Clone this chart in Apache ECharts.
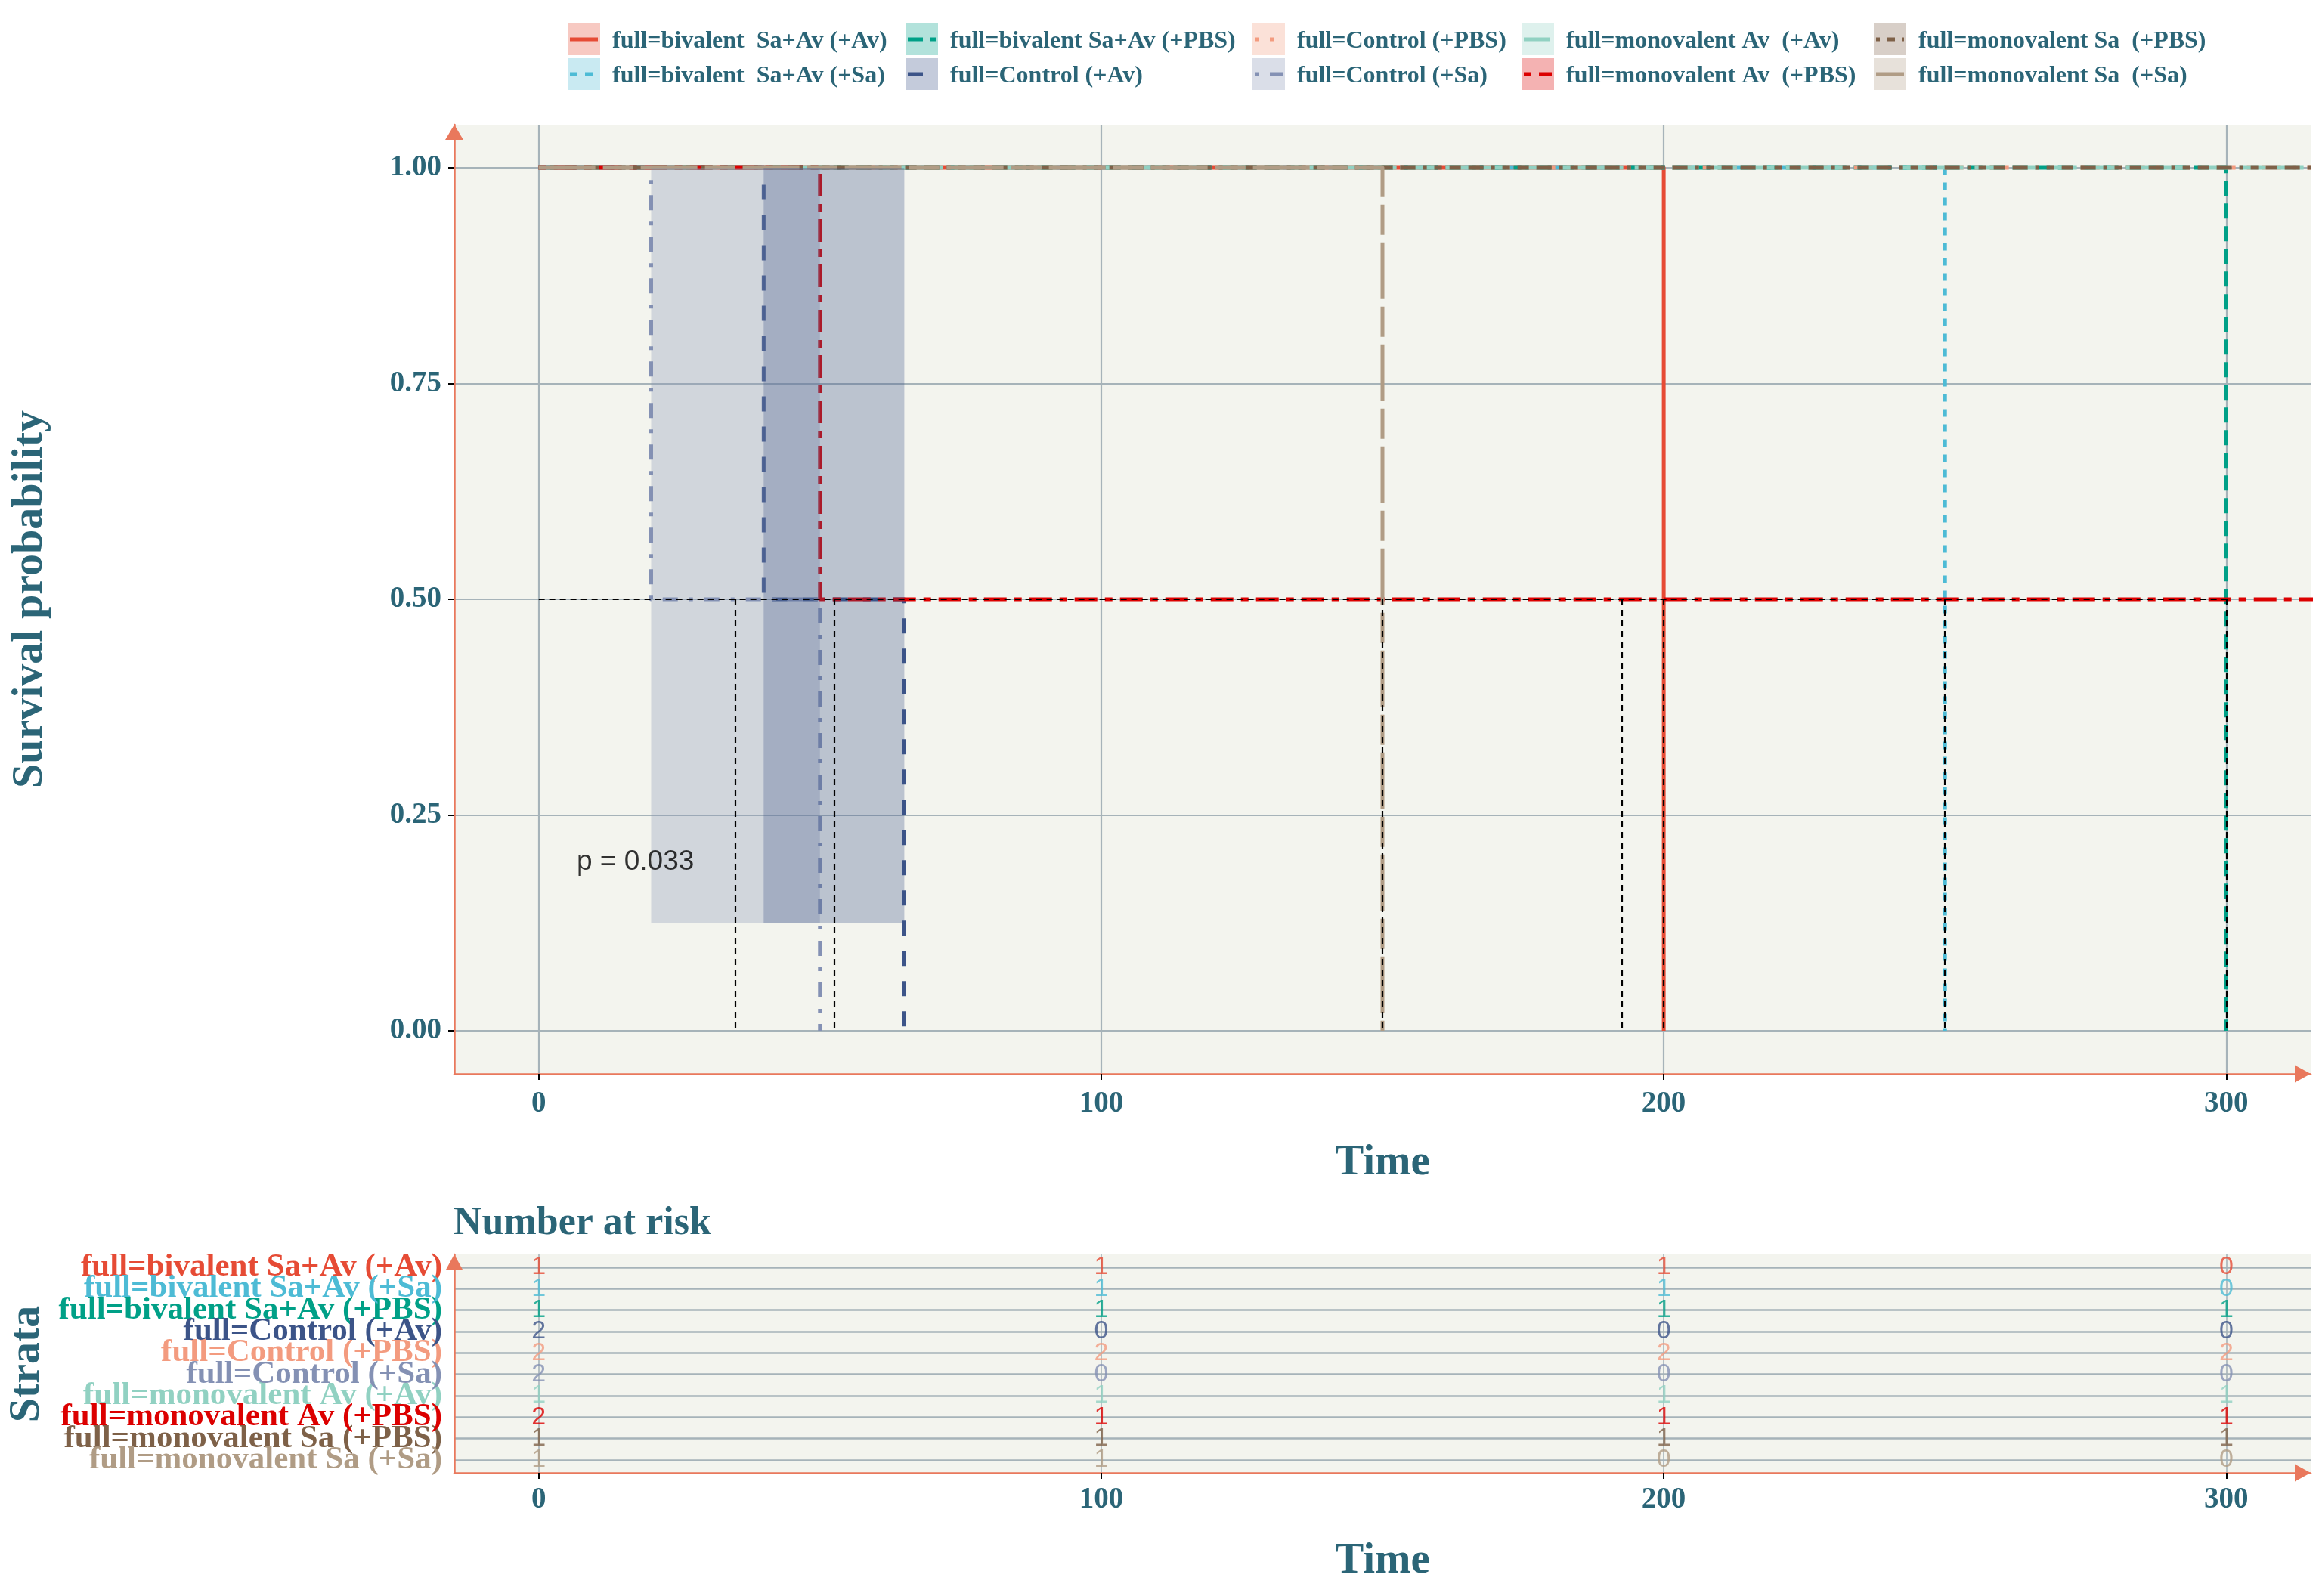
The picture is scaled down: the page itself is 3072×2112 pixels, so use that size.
<!DOCTYPE html>
<html><head><meta charset="utf-8">
<script src="https://cdn.jsdelivr.net/npm/echarts@6/dist/echarts.min.js"></script>
<style>html,body{margin:0;padding:0;background:#fff}#c{width:3072px;height:2112px}</style>
</head><body><div id="c"></div>
<script>
// ---------- data ----------
const strataLabels = [
  'full=bivalent Sa+Av (+Av)', 'full=bivalent Sa+Av (+Sa)', 'full=bivalent Sa+Av (+PBS)',
  'full=Control (+Av)', 'full=Control (+PBS)', 'full=Control (+Sa)',
  'full=monovalent Av (+Av)', 'full=monovalent Av (+PBS)', 'full=monovalent Sa (+PBS)',
  'full=monovalent Sa (+Sa)'
];
const legendLabels = [
  'full=bivalent  Sa+Av (+Av)', 'full=bivalent  Sa+Av (+Sa)', 'full=bivalent Sa+Av (+PBS)',
  'full=Control (+Av)', 'full=Control (+PBS)', 'full=Control (+Sa)',
  'full=monovalent Av  (+Av)', 'full=monovalent Av  (+PBS)', 'full=monovalent Sa  (+PBS)',
  'full=monovalent Sa  (+Sa)'
];
const strataColors = ['#E64B35','#4DBBD5','#00A087','#3C5488','#F39B7F','#8491B4','#91D1C2','#DC0000','#7E6148','#B09C85'];
const strataLinetypes = ['solid','22','42','44','13','1343','73','2262','12223242','F282'];

// Kaplan-Meier steps (time, survival after that time)
const kmTimes = [[0,200],[0,250],[0,300],[0,40,65],[0,335],[0,20,50],[0,335],[0,50,335],[0,335],[0,150]];
const kmSurv  = [[1,0],[1,0],[1,0],[1,0.5,0],[1,1],[1,0.5,0],[1,1],[1,0.5,0.5],[1,1],[1,0]];

// confidence bands (stratum index, from, to, lower, upper)
const ciStratum = [5, 3];
const ciFrom = [20, 40];
const ciTo = [50, 65];
const ciLower = [0.125, 0.125];
const ciUpper = [1, 1];

// median survival times
const medianTimes = [200, 250, 300, 52.5, null, 35, null, 192.5, null, 150];

// number at risk
const riskTimes = [0, 100, 200, 300];
const riskCounts = [[1,1,1,0],[1,1,1,0],[1,1,1,1],[2,0,0,0],[2,2,2,2],[2,0,0,0],[1,1,1,1],[2,1,1,1],[1,1,1,1],[1,1,0,0]];

const xTicks = [0, 100, 200, 300];
const yTicks = [0, 0.25, 0.5, 0.75, 1];
const pValueText = 'p = 0.033';
const pValueCoord = [6.7, 0.2];

// ---------- style ----------
const LBL = '#2B6577';
const AX = '#E9785C';
const GRID = '#A6B3B9';
const PANEL = '#F3F4EE';
const SERIF = 'Liberation Serif';
const SANS = 'Liberation Sans';
const LWD = 5;
function dash(lt, w) {
  if (lt === 'solid') return 'solid';
  return lt.split('').map(h => parseInt(h, 16) * w);
}
const n = strataLabels.length;

const chart = echarts.init(document.getElementById('c'), null, {renderer: 'canvas'});

function axisLine(perp, along) {
  return {show: true, onZero: false, lineStyle: {color: AX, width: 2.5},
          symbol: ['none', 'triangle'], symbolSize: [perp, along], symbolOffset: [0, -along / 2]};
}
const tickFont = {fontFamily: SERIF, fontWeight: 'bold', fontSize: 39, color: LBL, showMinLabel: true, showMaxLabel: true};

const series = [];
// survival curves
for (let i = 0; i < n; i++) {
  series.push({
    type: 'line', xAxisIndex: 0, yAxisIndex: 0, step: 'end', symbol: 'none', showSymbol: false,
    data: kmTimes[i].map((t, j) => [t, kmSurv[i][j]]),
    lineStyle: {color: strataColors[i], width: LWD, type: dash(strataLinetypes[i], LWD), cap: 'butt', join: 'round'},
    z: 2, zlevel: 0, silent: true, animation: false, clip: true
  });
}
// confidence bands
for (let k = 0; k < ciStratum.length; k++) {
  const col = strataColors[ciStratum[k]];
  series.push({
    type: 'custom', xAxisIndex: 0, yAxisIndex: 0, z: 3, silent: true, animation: false,
    data: [[ciFrom[k], ciTo[k], ciLower[k], ciUpper[k]]],
    encode: {x: [0, 1], y: [2, 3]},
    renderItem: function (params, api) {
      const p0 = api.coord([api.value(0), api.value(3)]);
      const p1 = api.coord([api.value(1), api.value(2)]);
      return {type: 'rect', shape: {x: p0[0], y: p0[1], width: p1[0] - p0[0], height: p1[1] - p0[1]},
              style: {fill: col, opacity: 0.3}};
    }
  });
}
// median lines
const medVals = medianTimes.filter(v => v !== null);
const maxMed = Math.max.apply(null, medVals);
const medLines = [[{coord: [0, 0.5]}, {coord: [maxMed, 0.5]}]];
medVals.forEach(m => medLines.push([{coord: [m, 0.5]}, {coord: [m, 0]}]));
series.push({
  type: 'line', xAxisIndex: 0, yAxisIndex: 0, data: [], z: 5, silent: true, animation: false,
  markLine: {silent: true, animation: false, symbol: ['none', 'none'], label: {show: false},
             lineStyle: {color: '#000', width: 2.2, type: [8, 6]}, data: medLines}
});
// p value
series.push({
  type: 'scatter', xAxisIndex: 0, yAxisIndex: 0, data: [pValueCoord], symbolSize: 1,
  itemStyle: {color: 'rgba(0,0,0,0)'}, silent: true, animation: false, z: 6,
  label: {show: true, position: 'right', distance: 0, offset: [0, 5], formatter: pValueText,
          fontFamily: SANS, fontSize: 37, color: '#000'}
});
// risk table numbers
for (let i = 0; i < n; i++) {
  series.push({
    type: 'scatter', xAxisIndex: 1, yAxisIndex: 1, symbolSize: 1, silent: true, animation: false,
    itemStyle: {color: 'rgba(0,0,0,0)'},
    data: riskTimes.map((t, j) => [t, n - i, riskCounts[i][j]]),
    label: {show: true, position: 'inside', formatter: p => String(p.value[2]),
            fontFamily: SANS, fontSize: 34, color: strataColors[i]}
  });
}

const rich = {};
for (let i = 0; i < n; i++) {
  rich['s' + i] = {color: strataColors[i], fontFamily: SERIF, fontWeight: 'bold', fontSize: 43};
}
const riskRows = strataLabels.map((s, i) => n - i);
const riskRowsA = riskRows.filter((v, i) => i % 2 === 0);
const riskRowsB = riskRows.filter((v, i) => i % 2 === 1);
const strataFormatter = v => { const i = n - Math.round(v); return '{s' + i + '|' + strataLabels[i] + '}'; };

// legend (graphic)
const graphic = [];
const legColX = [751, 1198, 1657, 2013, 2479];
const legRowY = [31, 77];
for (let i = 0; i < n; i++) {
  const cx = legColX[Math.floor(i / 2)], cy = legRowY[i % 2];
  graphic.push({type: 'rect', shape: {x: cx, y: cy, width: 43, height: 42},
                style: {fill: strataColors[i], opacity: 0.3}, silent: true});
  const d = dash(strataLinetypes[i], LWD);
  graphic.push({type: 'line', shape: {x1: cx + 3, y1: cy + 21, x2: cx + 40, y2: cy + 21},
                style: {stroke: strataColors[i], lineWidth: LWD, lineDash: d === 'solid' ? null : d, lineCap: 'butt'}, silent: true});
  graphic.push({type: 'text', x: cx + 59, y: cy + 24,
                style: {text: legendLabels[i], fill: LBL, font: 'bold 32px "' + SERIF + '"',
                        align: 'left', verticalAlign: 'middle', textAlign: 'left', textVerticalAlign: 'middle'}, silent: true});
}
function title(text, x, y, size, rot, align) {
  return {type: 'text', x: x, y: y, rotation: rot || 0,
          style: {text: text, fill: LBL, font: 'bold ' + size + 'px "' + SERIF + '"',
                  align: align || 'center', verticalAlign: 'middle',
                  textAlign: align || 'center', textVerticalAlign: 'middle'}, silent: true};
}
graphic.push(title('Survival probability', 40, 793, 58, Math.PI / 2));
graphic.push(title('Time', 1829, 1539, 57));
graphic.push(title('Number at risk', 600, 1620, 52, 0, 'left'));
graphic.push(title('Strata', 36, 1805, 58, Math.PI / 2));
graphic.push(title('Time', 1829, 2066, 57));

const option = {
  backgroundColor: '#ffffff',
  animation: false,
  grid: [
    {left: 601, top: 165, width: 2456, height: 1256, show: true, backgroundColor: PANEL, borderWidth: 0, containLabel: false, outerBoundsMode: 'none'},
    {left: 601, top: 1660, width: 2456, height: 289, show: true, backgroundColor: PANEL, borderWidth: 0, containLabel: false, outerBoundsMode: 'none'}
  ],
  xAxis: [
    {type: 'value', gridIndex: 0, min: -15, max: 315, axisLine: axisLine(23, 21),
     axisTick: {show: true, length: 8, lineStyle: {color: '#000', width: 2}, customValues: xTicks},
     axisLabel: Object.assign({customValues: xTicks, margin: 20}, tickFont),
     splitLine: {show: true, lineStyle: {color: GRID, width: 2.2}}},
    {type: 'value', gridIndex: 1, min: -15, max: 315, axisLine: axisLine(23, 21),
     axisTick: {show: true, length: 8, lineStyle: {color: '#000', width: 2}, customValues: xTicks},
     axisLabel: Object.assign({customValues: xTicks, margin: 16}, tickFont),
     splitLine: {show: true, lineStyle: {color: GRID, width: 1.6}}}
  ],
  yAxis: [
    {type: 'value', gridIndex: 0, min: -0.05, max: 1.05, axisLine: axisLine(24, 20),
     axisTick: {show: true, length: 8, lineStyle: {color: '#000', width: 2}, customValues: yTicks},
     axisLabel: Object.assign({customValues: yTicks, margin: 17, formatter: v => Number(v).toFixed(2)}, tickFont),
     splitLine: {show: true, lineStyle: {color: GRID, width: 2.2}}},
    {type: 'value', gridIndex: 1, min: 0.4, max: 10.6, position: 'left', offset: 0, axisLine: axisLine(22, 20),
     axisTick: {show: false, customValues: riskRows},
     axisLabel: {customValues: riskRowsA, margin: 16, rich: rich, showMinLabel: true, showMaxLabel: true, hideOverlap: false,
                 formatter: strataFormatter},
     splitLine: {show: true, lineStyle: {color: GRID, width: 2.5}}},
    {type: 'value', gridIndex: 1, min: 0.4, max: 10.6, position: 'left', offset: 0, z: 4,
     axisLine: {show: false, onZero: false}, axisTick: {show: false, customValues: riskRowsB},
     axisLabel: {customValues: riskRowsB, margin: 16, rich: rich, showMinLabel: true, showMaxLabel: true, hideOverlap: false,
                 formatter: strataFormatter},
     splitLine: {show: false}}
  ],
  series: series,
  graphic: graphic
};
chart.setOption(option);
</script>
</body></html>
